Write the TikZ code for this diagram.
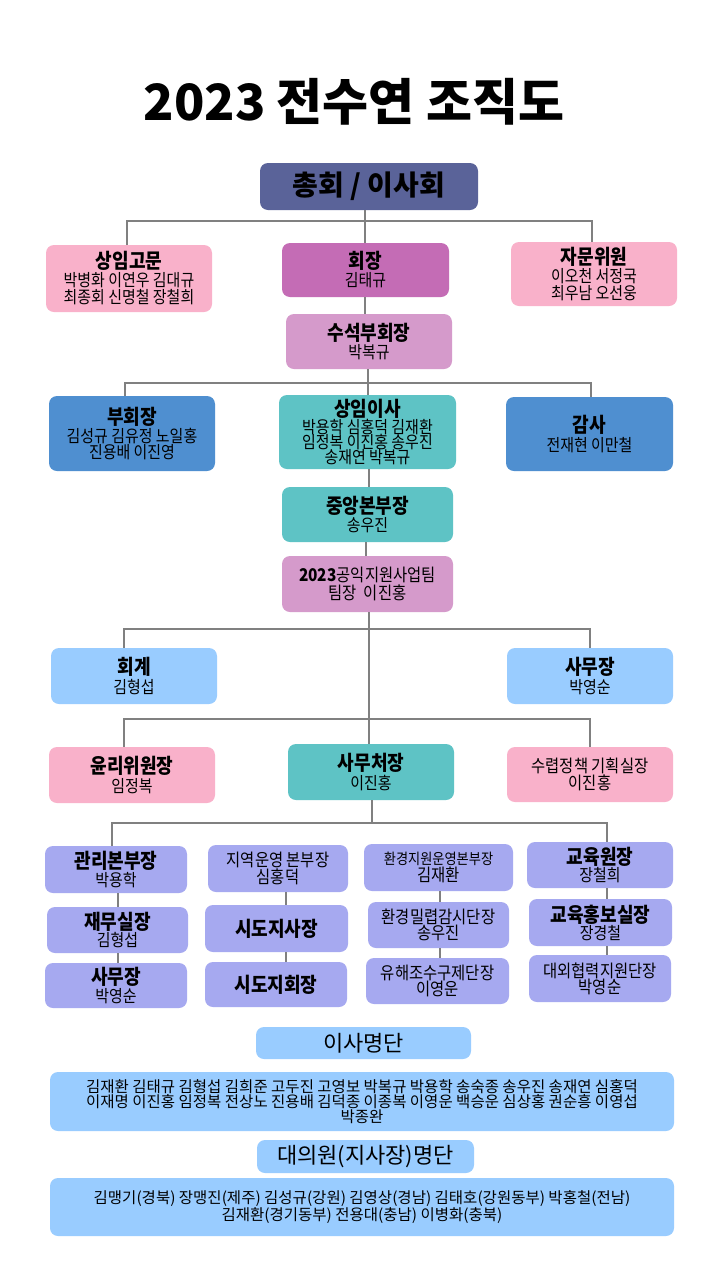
\documentclass[tikz,border=0pt]{standalone}
\usepackage{fontspec}
\setmainfont{Noto Sans CJK KR}
\newfontfamily\cnd{Noto Sans CJK KR}[FakeStretch=0.88]
\definecolor{cSlate}{HTML}{5A6399}
\definecolor{cMag}{HTML}{C46CB5}
\definecolor{cPink}{HTML}{F9B1CA}
\definecolor{cOrchid}{HTML}{D59ACB}
\definecolor{cBlue}{HTML}{4F8FD0}
\definecolor{cTeal}{HTML}{5EC3C5}
\definecolor{cLight}{HTML}{99CCFF}
\definecolor{cLav}{HTML}{A6A9F0}
\definecolor{cLine}{HTML}{808080}
\newcommand\nmfont{\cnd\fontsize{17}{16}\selectfont}
\newcommand\ttl[1]{{\fontsize{20.5}{20}\selectfont\bfseries #1}}
\newcommand\mdtxt[1]{{\fontsize{17.5}{17}\selectfont #1}}
\tikzset{
  box/.style={rounded corners=8pt, align=center, inner sep=0pt, text=black, font=\nmfont},
  lst/.style={rounded corners=8pt, align=center, inner sep=0pt, text=black, font=\fontsize{15.5}{15}\selectfont},
  sz/.style 2 args={minimum width=#1pt, minimum height=#2pt},
  conn/.style={draw=cLine, line width=2pt},
}
\begin{document}
\begin{tikzpicture}[x=1pt,y=-1pt]
\fill[white] (0,0) rectangle (720,1280);
\useasboundingbox (0,0) rectangle (720,1280);

\node[font=\fontsize{50}{52}\selectfont\bfseries] (title) at (354,102) {2023 전수연 조직도};

% level 1
\node[box, fill=cSlate, sz={218}{47}, font=\fontsize{28}{30}\selectfont\bfseries] (chonghoe) at (369,186.5) {총회 / 이사회};
\node[box, fill=cPink, sz={166}{67}] (gomun) at (129,278.5) {\ttl{상임고문}\\[1pt]박병화 이연우 김대규\\[1pt]최종회 신명철 장철희};
\node[box, fill=cMag, sz={167}{54}] (hoejang) at (365.5,270) {\ttl{회장}\\[1pt]김태규};
\node[box, fill=cPink, sz={166}{64}] (jamun) at (594,274) {\ttl{자문위원}\\[1pt]이오천 서정국\\[1pt]최우남 오선웅};
\node[box, fill=cOrchid, sz={166}{55}] (suseok) at (369,341.5) {\ttl{수석부회장}\\[1pt]박복규};

% level 2
\node[box, fill=cBlue, sz={166}{75}] (buhoe) at (132,433.5) {\ttl{부회장}\\[1pt]김성규 김유정 노일홍\\진용배 이진영};
\node[box, fill=cTeal, sz={177}{74}] (sangim) at (367.5,432) {\ttl{상임이사}\\[0pt]박용학 심홍덕 김재환\\[-1pt]임정복 이진홍 송우진\\[-1pt]송재연 박복규};
\node[box, fill=cBlue, sz={167}{74}] (gamsa) at (589.5,434) {\ttl{감사}\\[1pt]전재현 이만철};
\node[box, fill=cTeal, sz={171}{55}] (jungang) at (367.5,514.5) {\ttl{중앙본부장}\\[1pt]송우진};
\node[box, fill=cOrchid, sz={171}{56}] (gongik) at (367.5,584) {\mdtxt{\textbf{2023}공익지원사업팀}\\[1pt]\mdtxt{팀장\ \ 이진홍}};

% level 3
\node[box, fill=cLight, sz={166}{56}] (hoegye) at (134,676) {\ttl{회계}\\[1pt]김형섭};
\node[box, fill=cLight, sz={166}{56}] (samujangR) at (590,676) {\ttl{사무장}\\[1pt]박영순};
\node[box, fill=cPink, sz={166}{56}] (yulli) at (132,775) {\ttl{윤리위원장}\\[1pt]임정복};
\node[box, fill=cTeal, sz={166}{56}] (samucheo) at (371,772) {\ttl{사무처장}\\[1pt]이진홍};
\node[box, fill=cPink, sz={166}{55}] (suryeop) at (590,774.5) {\mdtxt{수렵정책 기획실장}\\[0pt]\mdtxt{이진홍}};

% level 4 columns
\node[box, fill=cLav, sz={142}{47}] (gwanri) at (116,869.5) {\ttl{관리본부장}\\[0pt]박용학};
\node[box, fill=cLav, sz={141}{46}] (jaemu) at (117.5,930) {\ttl{재무실장}\\[0pt]김형섭};
\node[box, fill=cLav, sz={142}{45}] (samujangL) at (116,985.5) {\ttl{사무장}\\[0pt]박영순};

\node[box, fill=cLav, sz={140}{47}] (jiyeok) at (278,868.5) {\mdtxt{지역운영 본부장}\\[0pt]\mdtxt{심홍덕}};
\node[box, fill=cLav, sz={143}{47}] (sidoji) at (276.5,928.5) {\ttl{시도지사장}};
\node[box, fill=cLav, sz={142}{45}] (sidohoe) at (276,984.5) {\ttl{시도지회장}};

\node[box, fill=cLav, sz={149}{47}] (hwangyeong) at (438.5,867.5) {{\fontsize{15}{15}\selectfont 환경지원운영본부장}\\[1pt]\mdtxt{김재환}};
\node[box, fill=cLav, sz={141}{46}] (milryeop) at (438.5,925) {\mdtxt{환경밀렵감시단장}\\[0pt]\mdtxt{송우진}};
\node[box, fill=cLav, sz={143}{46}] (yuhae) at (437.5,981) {\mdtxt{유해조수구제단장}\\[0pt]\mdtxt{이영운}};

\node[box, fill=cLav, sz={146}{46}] (gyoyuk) at (600,865) {\ttl{교육원장}\\[0pt]장철희};
\node[box, fill=cLav, sz={143}{47}] (hongbo) at (600.5,922.5) {\ttl{교육홍보실장}\\[0pt]장경철};
\node[box, fill=cLav, sz={142}{47}] (daeoe) at (600,978.5) {\mdtxt{대외협력지원단장}\\[0pt]\mdtxt{박영순}};

% lists
\node[lst, fill=cLight, sz={215}{32}, font=\fontsize{22}{22}\selectfont] (isa) at (363.5,1043) {이사명단};
\node[lst, fill=cLight, sz={624}{59}] (isalist) at (362,1101.5) {김재환 김태규 김형섭 김희준 고두진 고영보 박복규 박용학 송숙종 송우진 송재연 심홍덕\\이재명 이진홍 임정복 전상노 진용배 김덕종 이종복 이영운 백승운 심상홍 권순흥 이영섭\\박종완};
\node[lst, fill=cLight, sz={217}{33}, font=\fontsize{22}{22}\selectfont] (daeui) at (365.5,1156.5) {대의원(지사장)명단};
\node[lst, fill=cLight, sz={624}{58}] (daeuilist) at (362,1207) {김맹기(경북) 장맹진(제주) 김성규(강원) 김영상(경남) 김태호(강원동부) 박홍철(전남)\\김재환(경기동부) 전용대(충남) 이병화(충북)};

% connectors
\coordinate (j1) at (365,221);
\coordinate (j1L) at (127,221);
\coordinate (j1R) at (592,221);
\draw[conn] (j1 |- chonghoe.south) -- (j1 |- hoejang.north);
\draw[conn] (j1L |- gomun.north) -- (j1L) -- (j1R) -- (j1R |- jamun.north);
\draw[conn] (j1 |- hoejang.south) -- (j1 |- suseok.north);

\coordinate (j2) at (368,383);
\coordinate (j2L) at (125,383);
\coordinate (j2R) at (591,383);
\draw[conn] (j2 |- suseok.south) -- (j2 |- sangim.north);
\draw[conn] (j2L |- buhoe.north) -- (j2L) -- (j2R) -- (j2R |- gamsa.north);
\coordinate (c2) at (369,500);
\draw[conn] (c2 |- sangim.south) -- (c2 |- jungang.north);
\coordinate (c3) at (366,550);
\draw[conn] (c3 |- jungang.south) -- (c3 |- gongik.north);

\coordinate (j3) at (369,629);
\coordinate (j3L) at (124,629);
\coordinate (j3R) at (590,629);
\coordinate (j4) at (369,719);
\coordinate (j4L) at (124,719);
\coordinate (j4R) at (590,719);
\draw[conn] (j3 |- gongik.south) -- (j3 |- samucheo.north);
\draw[conn] (j3L |- hoegye.north) -- (j3L) -- (j3R) -- (j3R |- samujangR.north);
\draw[conn] (j4L |- yulli.north) -- (j4L) -- (j4R) -- (j4R |- suryeop.north);

\coordinate (j5) at (372,823);
\coordinate (j5L) at (112,823);
\coordinate (j5R) at (607,823);
\draw[conn] (j5 |- samucheo.south) -- (j5);
\draw[conn] (j5L |- gwanri.north) -- (j5L) -- (j5R) -- (j5R |- gyoyuk.north);

\coordinate (k1) at (118,900);
\coordinate (k2) at (286,900);
\coordinate (k3) at (440,900);
\coordinate (k4) at (607,900);
\draw[conn] (k1 |- gwanri.south) -- (k1 |- jaemu.north);
\draw[conn] (k1 |- jaemu.south) -- (k1 |- samujangL.north);
\draw[conn] (k2 |- jiyeok.south) -- (k2 |- sidoji.north);
\draw[conn] (k2 |- sidoji.south) -- (k2 |- sidohoe.north);
\draw[conn] (k3 |- hwangyeong.south) -- (k3 |- milryeop.north);
\draw[conn] (k3 |- milryeop.south) -- (k3 |- yuhae.north);
\draw[conn] (k4 |- gyoyuk.south) -- (k4 |- hongbo.north);
\draw[conn] (k4 |- hongbo.south) -- (k4 |- daeoe.north);
\end{tikzpicture}
\end{document}
